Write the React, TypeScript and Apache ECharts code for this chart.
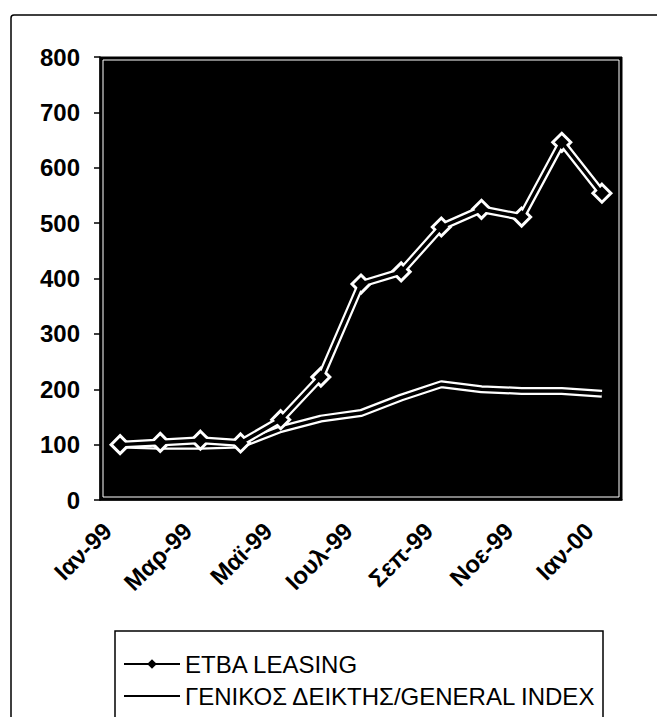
import React, { useEffect, useRef } from "react";
import * as echarts from "echarts";

const categories = ["Ιαν-99", "Φεβ-99", "Μαρ-99", "Απρ-99", "Μαϊ-99", "Ιουν-99", "Ιουλ-99", "Αυγ-99", "Σεπ-99", "Οκτ-99", "Νοε-99", "Δεκ-99", "Ιαν-00"];
const etbaLeasing = [100, 104, 108, 103, 145, 222, 390, 412, 493, 525, 511, 646, 554];
const generalIndex = [100, 98, 98, 100, 128, 147, 157, 185, 209, 200, 197, 197, 192];
const yTicks = [0, 100, 200, 300, 400, 500, 600, 700, 800];

const NAME_ETBA = "ETBA LEASING";
const NAME_INDEX = "ΓΕΝΙΚΟΣ ΔΕΙΚΤΗΣ/GENERAL INDEX";
const FONT = "'Liberation Sans', Arial, sans-serif";

export default function App() {
  const ref = useRef<HTMLDivElement>(null);
  useEffect(() => {
    if (!ref.current) return;
    const chart = echarts.init(ref.current, undefined, { renderer: "svg" });
    chart.setOption({
      animation: false,
      backgroundColor: "#fff",
      grid: {
        left: 100,
        right: 35,
        top: 57,
        bottom: 217,
        show: true,
        backgroundColor: "#000",
        borderColor: "#000",
        borderWidth: 1,
      },
      graphic: [
        {
          type: "rect",
          z: 1,
          shape: { x: 11, y: 15, width: 700, height: 800, r: 3 },
          style: { fill: "none", stroke: "#000", lineWidth: 1.5 },
        },
        {
          type: "rect",
          z: 1,
          shape: { x: 103, y: 60, width: 516, height: 437 },
          style: { fill: "none", stroke: "#fff", lineWidth: 1 },
        },
        {
          type: "rect",
          z: 1,
          shape: { x: 115, y: 631, width: 488, height: 100 },
          style: { fill: "#fff", stroke: "#000", lineWidth: 1.5 },
        },
      ],
      legend: {
        orient: "vertical",
        left: 123,
        top: 652,
        height: 64,
        padding: 0,
        itemWidth: 56,
        itemHeight: 12,
        itemGap: 8,
        selectedMode: false,
        textStyle: { fontFamily: FONT, fontSize: 24, color: "#000", lineHeight: 24 },
        data: [
          {
            name: NAME_ETBA,
            itemStyle: { color: "#000", borderColor: "#000", borderWidth: 0 },
            lineStyle: { color: "#000", width: 2 },
          },
          {
            name: NAME_INDEX,
            itemStyle: { color: "rgba(0,0,0,0)", borderColor: "rgba(0,0,0,0)", borderWidth: 0 },
            lineStyle: { color: "#000", width: 2 },
          },
        ],
      },
      xAxis: {
        type: "category",
        data: categories,
        boundaryGap: true,
        axisLine: { lineStyle: { color: "#000", width: 1.5 } },
        axisTick: { interval: 1, length: 6, lineStyle: { color: "#000", width: 1.5 } },
        axisLabel: {
          interval: 1,
          rotate: 45,
          margin: 14,
          padding: [0, 18, 0, 0],
          fontFamily: FONT,
          fontSize: 24,
          fontWeight: "bold",
          color: "#000",
        },
        splitLine: { show: false },
      },
      yAxis: {
        type: "value",
        min: 0,
        max: 800,
        interval: 100,
        axisLine: { show: true, lineStyle: { color: "#000", width: 1.5 } },
        axisTick: { show: true, length: 6, lineStyle: { color: "#000", width: 1.5 } },
        axisLabel: {
          margin: 20,
          fontFamily: FONT,
          fontSize: 24,
          fontWeight: "bold",
          color: "#000",
          formatter: (v: number) => (yTicks.includes(v) ? String(v) : ""),
        },
        splitLine: { show: false },
      },
      series: [
        {
          name: NAME_INDEX,
          type: "line",
          data: generalIndex,
          symbol: "none",
          z: 2,
          lineStyle: { color: "#fff", width: 8 },
          itemStyle: { color: "#fff" },
        },
        {
          name: "index-core",
          type: "line",
          data: generalIndex,
          symbol: "none",
          z: 3,
          lineStyle: { color: "#000", width: 3.5 },
        },
        {
          name: NAME_ETBA,
          type: "line",
          data: etbaLeasing,
          symbol: "diamond",
          symbolSize: 18,
          z: 4,
          lineStyle: { color: "#fff", width: 8 },
          itemStyle: { color: "#000", borderColor: "#fff", borderWidth: 3 },
        },
        {
          name: "etba-core",
          type: "line",
          data: etbaLeasing,
          symbol: "none",
          z: 5,
          lineStyle: { color: "#000", width: 3.5 },
        },
      ],
    });
    return () => chart.dispose();
  }, []);
  return (
    <div
      ref={ref}
      style={{ position: "fixed", left: 0, top: 0, width: 657, height: 717 }}
    />
  );
}
